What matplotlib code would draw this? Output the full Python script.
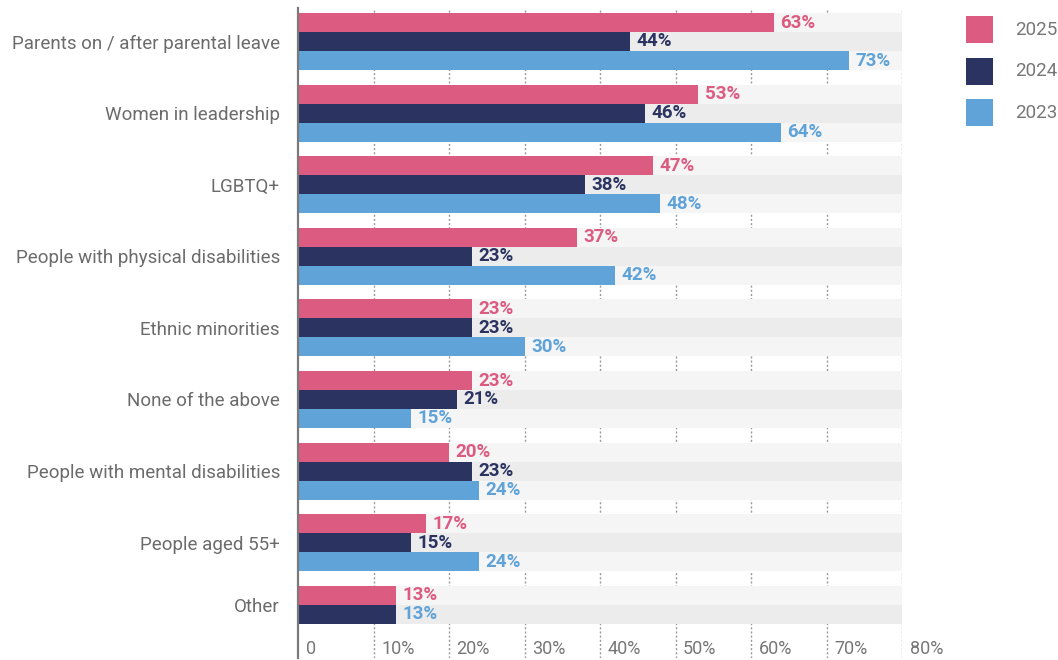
import matplotlib
matplotlib.use('Agg')
import matplotlib.pyplot as plt
from matplotlib.patches import Rectangle
import numpy as np

plt.rcParams['font.family'] = ['Roboto', 'DejaVu Sans']

categories = [
    'Parents on / after parental leave',
    'Women in leadership',
    'LGBTQ+',
    'People with physical disabilities',
    'Ethnic minorities',
    'None of the above',
    'People with mental disabilities',
    'People aged 55+',
    'Other',
]
years = ['2025', '2024', '2023']
vals_2025 = [63, 53, 47, 37, 23, 23, 20, 17, 13]
vals_2024 = [44, 46, 38, 23, 23, 21, 23, 15, 13]
vals_2023 = [73, 64, 48, 42, 30, 15, 24, 24, None]
x_ticks = [0, 10, 20, 30, 40, 50, 60, 70, 80]

colors = ['#dc5b80', '#2b3360', '#5fa3d8']
bg_colors = ['#f5f5f5', '#ececec', '#f5f5f5']

W, H = 1058, 660
px = 71.6          # pixels per group
h = 19 / px        # bar height in group units

fig = plt.figure(figsize=(W / 100, H / 100), dpi=100)
ax = fig.add_axes([298 / W, 2 / H, 604 / W, 650 / H])

series = [vals_2025, vals_2024, vals_2023]
ytick_pos = []
for i, cat in enumerate(categories):
    present = [k for k in range(3) if series[k][i] is not None]
    for k in present:
        y = i + (k - 1) * h
        ax.barh(y, 80, height=h, color=bg_colors[k], zorder=1)
        v = series[k][i]
        ax.barh(y, v, height=h, color=colors[k], zorder=2)
        # the "Other" row labels its second bar in the 2023 colour
        lab_col = colors[k]
        if len(present) == 2 and k == 1:
            lab_col = colors[2]
        ax.text(v + 0.85, y, f'{v}%', color=lab_col, fontsize=13.5,
                fontweight='bold', va='center', ha='left', zorder=3)
    ys = [i + (k - 1) * h for k in present]
    ytick_pos.append(np.mean(ys) if len(present) == 2 else i)

top = -(41.5 - 8) / px
bottom = (658 - 41.5) / px
ax.set_ylim(bottom, top)
ax.set_xlim(0, 80)

# dotted gridlines behind everything
for t in x_ticks[1:]:
    ax.plot([t, t], [bottom, top], color='#9a9a9a', lw=1, ls=(0, (1.5, 1.5)), zorder=0)

for t in x_ticks:
    lab = '0' if t == 0 else f'{t}%'
    ax.text(t + 1.0, (649 - 41.5) / px, lab, color='#777777', fontsize=13,
            va='center', ha='left')

ax.set_yticks(ytick_pos)
ax.set_yticklabels(categories, fontsize=13.5, color='#6b6b6b')
ax.tick_params(axis='y', length=0, pad=13)
ax.set_xticks([])

for s in ['top', 'right', 'bottom']:
    ax.spines[s].set_visible(False)
ax.spines['left'].set_color('#7a7a7a')
ax.spines['left'].set_linewidth(1.6)

# legend: coloured squares with year labels
for j, (yr, c) in enumerate(zip(years, colors)):
    y0 = 16 + j * 41.5
    fig.add_artist(Rectangle((966 / W, 1 - (y0 + 27) / H), 27 / W, 27 / H,
                             transform=fig.transFigure, facecolor=c, edgecolor='none'))
    fig.text(1015 / W, 1 - (y0 + 14) / H, yr, fontsize=13.5, color='#777777',
             va='center', ha='left')

fig.savefig('out.png', dpi=100)
